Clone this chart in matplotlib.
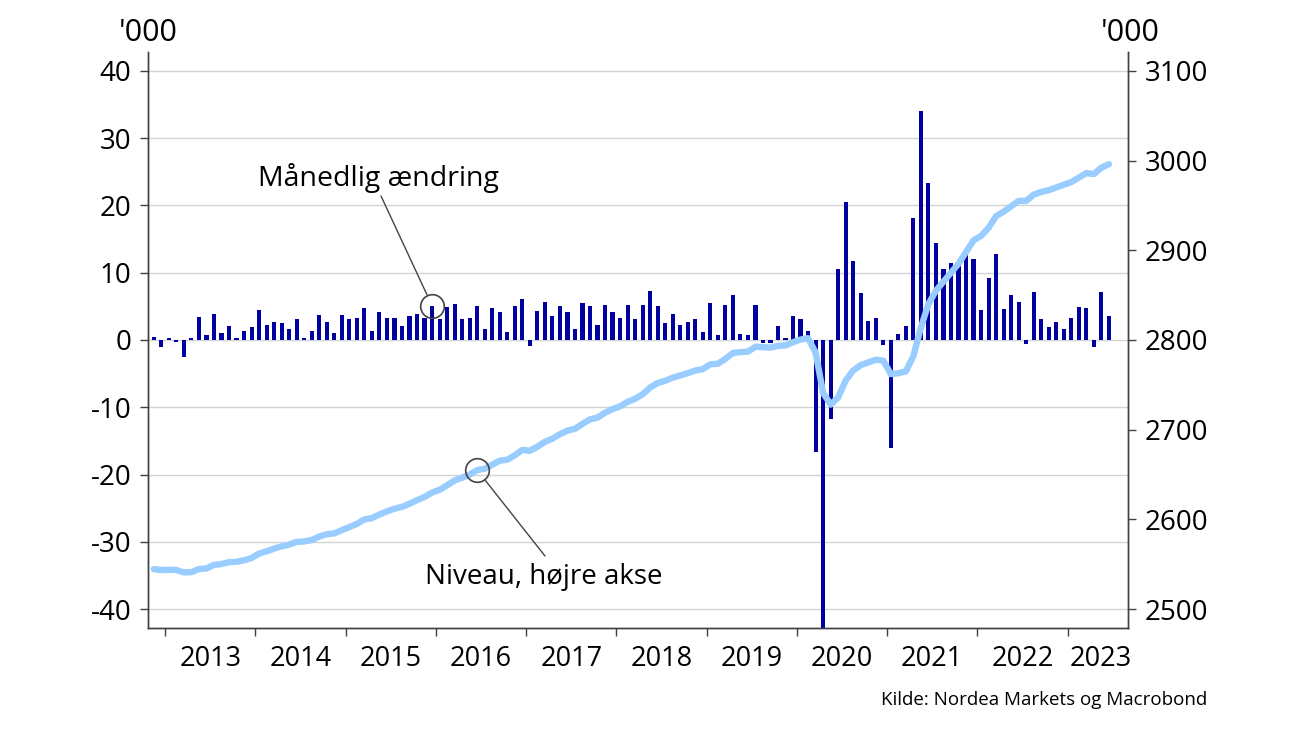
import numpy as np
import pandas as pd
import matplotlib
matplotlib.use('Agg')
import matplotlib.pyplot as plt

# monthly data, Nov 2012 - Jun 2023
months = pd.period_range('2012-11', periods=128, freq='M')

# monthly change, '000 (left axis)
change = [0.4, -1.0, 0.3, -0.3, -2.6, 0.3, 3.4, 0.7, 3.9, 1.0,
          2.1, 0.35, 1.3, 1.9, 4.5, 2.2, 2.7, 2.5, 1.6, 3.1,
          0.35, 1.4, 3.7, 2.7, 1.0, 3.7, 3.1, 3.2, 4.8, 1.3,
          4.1, 3.2, 3.2, 2.1, 3.5, 3.8, 3.3, 5.1, 3.1, 4.9,
          5.3, 3.1, 3.2, 5.0, 1.6, 4.7, 4.2, 1.2, 5.0, 6.1,
          -0.9, 4.3, 5.7, 3.5, 5.0, 4.1, 1.6, 5.5, 5.0, 2.2,
          5.2, 4.1, 3.2, 5.2, 3.1, 5.2, 7.3, 5.0, 2.5, 3.8,
          2.3, 2.6, 3.1, 1.2, 5.5, 0.8, 5.2, 6.7, 0.9, 0.8,
          5.2, -0.5, -0.5, 2.1, 0.3, 3.6, 3.1, 1.3, -16.6, -45.0,
          -11.8, 10.6, 20.5, 11.7, 7.0, 2.8, 3.2, -0.8, -16.0, 0.9,
          2.1, 18.2, 34.1, 23.4, 14.4, 10.5, 11.4, 11.4, 12.7, 12.0,
          4.5, 9.2, 12.8, 4.6, 6.7, 5.7, -0.6, 7.1, 3.1, 2.0,
          2.6, 1.6, 3.2, 4.9, 4.7, -1.0, 7.2, 3.5]

# level, '000 (right axis)
level = [2544.6, 2543.6, 2543.9, 2543.6, 2541.0, 2541.3, 2544.7, 2545.4, 2549.3, 2550.3,
         2552.4, 2552.8, 2554.5, 2557.0, 2562.0, 2564.5, 2567.5, 2570.0, 2572.0, 2575.0,
         2575.5, 2577.0, 2581.0, 2583.5, 2584.5, 2588.0, 2591.5, 2595.0, 2600.0, 2601.5,
         2605.5, 2609.0, 2612.0, 2614.0, 2617.5, 2621.5, 2625.0, 2630.0, 2633.0, 2638.0,
         2643.5, 2646.5, 2650.0, 2655.0, 2656.5, 2661.0, 2665.5, 2666.5, 2671.5, 2677.5,
         2676.5, 2681.0, 2686.5, 2690.0, 2695.0, 2699.0, 2701.0, 2706.5, 2711.5, 2713.5,
         2719.0, 2723.0, 2726.0, 2731.0, 2734.5, 2739.5, 2747.0, 2752.0, 2754.5, 2758.0,
         2760.5, 2763.0, 2766.0, 2767.5, 2773.0, 2773.5, 2779.0, 2785.5, 2786.5, 2787.0,
         2792.5, 2792.0, 2791.5, 2793.5, 2794.0, 2797.5, 2800.5, 2802.0, 2786.0, 2741.0,
         2728.0, 2736.0, 2755.0, 2766.0, 2772.0, 2775.0, 2778.0, 2777.0, 2762.0, 2763.0,
         2765.0, 2782.0, 2814.0, 2840.0, 2855.0, 2865.0, 2875.0, 2885.0, 2898.0, 2911.0,
         2916.0, 2925.0, 2938.0, 2943.0, 2949.0, 2955.0, 2955.0, 2962.0, 2965.0, 2967.0,
         2970.0, 2973.0, 2976.0, 2981.0, 2986.0, 2985.0, 2992.0, 2996.0]

years = list(range(2013, 2024))
left_ticks = [-40, -30, -20, -10, 0, 10, 20, 30, 40]
right_ticks = [2500, 2600, 2700, 2800, 2900, 3000, 3100]

plt.rcParams['font.family'] = ['Open Sans', 'DejaVu Sans']
plt.rcParams['axes.unicode_minus'] = False

x = np.array(months.year + (months.month - 0.5) / 12)

fig = plt.figure(figsize=(13, 7.31), dpi=100)
ax = fig.add_axes([0.1138, 0.1409, 0.7539, 0.788])
ax2 = ax.twinx()

ax.bar(x, change, width=0.55 / 12, color='#0000a0', zorder=2)
ax2.plot(x, level, color='#99ccff', lw=4.6, solid_capstyle='round', zorder=3)

ax.set_xlim(2012.81, 2023.67)
ax.set_ylim(-42.8, 42.8)
ax2.set_ylim(2800 - 42.8 * 7.5, 2800 + 42.8 * 7.5)

ax.set_yticks(left_ticks)
ax2.set_yticks(right_ticks)
ax.yaxis.grid(True, color='#d4d4d4', lw=1)
ax.set_axisbelow(True)

# year ticks at boundaries, labels in between
ax.set_xticks(years)
ax.set_xticklabels([])
lab_pos = [y + 0.5 for y in years[:-1]] + [2023.37]
ax.set_xticks(lab_pos, minor=True)
ax.set_xticklabels([str(y) for y in years], minor=True)
ax.tick_params(axis='x', which='minor', length=0, pad=12, labelsize=19.5)
ax.tick_params(axis='x', which='major', length=6, width=1, color='#404040')
ax.tick_params(axis='y', length=6, width=1, color='#404040', labelsize=20, pad=6)
ax2.tick_params(axis='y', length=6, width=1, color='#404040', labelsize=20, pad=6)

for a in (ax, ax2):
    a.spines['top'].set_visible(False)
    for s in ('left', 'right', 'bottom'):
        a.spines[s].set_color('#404040')
        a.spines[s].set_linewidth(1)

# annotations
i_bar = 37
ax.plot(x[i_bar], change[i_bar], 'o', ms=17, mfc='none', mec='#444444', mew=1.2, zorder=5)
ax.annotate('', xy=(x[i_bar], change[i_bar]), xycoords='data',
            xytext=(381, 731 - 196), textcoords='figure pixels',
            arrowprops=dict(arrowstyle='-', color='#444444', lw=1, shrinkA=0, shrinkB=8.6))
fig.text(378, 731 - 178, 'Månedlig ændring', transform=None, ha='center', va='center', fontsize=20.5)

i_lvl = 43
ax2.plot(x[i_lvl], level[i_lvl], 'o', ms=17, mfc='none', mec='#444444', mew=1.2, zorder=5)
ax2.annotate('', xy=(x[i_lvl], level[i_lvl]), xycoords='data',
             xytext=(545, 731 - 556), textcoords='figure pixels',
             arrowprops=dict(arrowstyle='-', color='#444444', lw=1, shrinkA=0, shrinkB=8.6))
fig.text(544, 731 - 577, 'Niveau, højre akse', transform=None, ha='center', va='center', fontsize=20)

fig.text(148 / 1300, 1 - 33 / 731, "'000", ha='center', va='center', fontsize=22)
fig.text(1130 / 1300, 1 - 33 / 731, "'000", ha='center', va='center', fontsize=22)
fig.text(1207 / 1300, 1 - 700 / 731, 'Kilde: Nordea Markets og Macrobond',
         ha='right', va='center', fontsize=13.5)

fig.savefig('out.png', dpi=100)
